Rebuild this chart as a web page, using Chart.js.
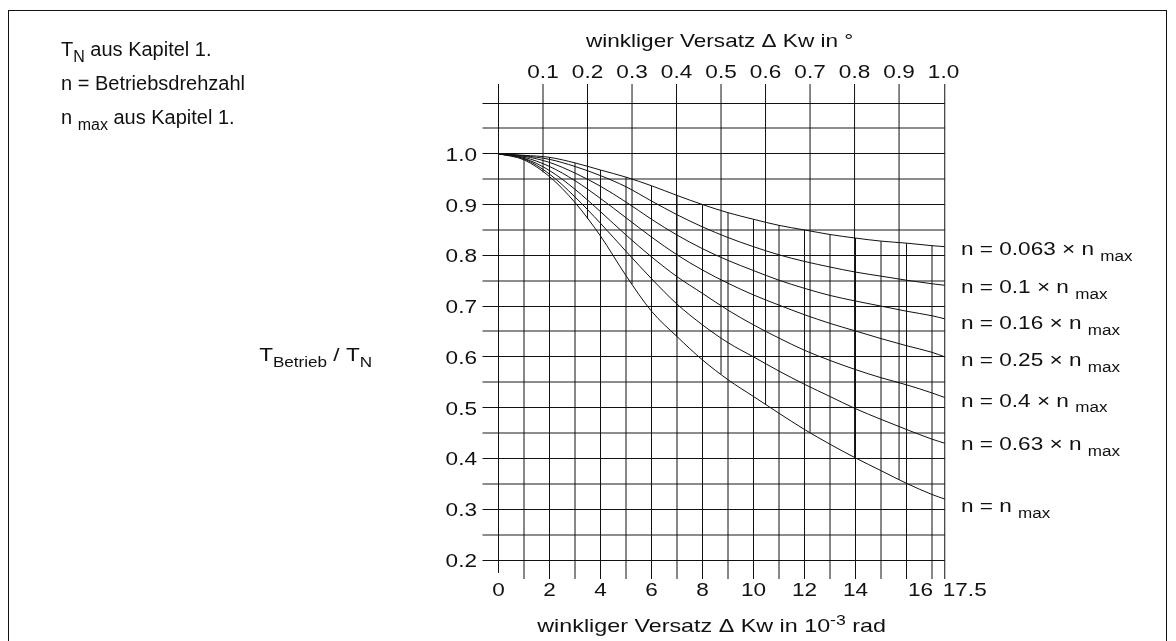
<!DOCTYPE html>
<html>
<head>
<meta charset="utf-8">
<script src="https://cdn.jsdelivr.net/npm/chart.js@4.4.0/dist/chart.umd.min.js"></script>
<style>
  html, body { margin: 0; padding: 0; background: #fff; }
  #wrap { width: 1176px; height: 641px; }
</style>
</head>
<body>
<div id="wrap"><canvas id="mainChart" width="1176" height="641"></canvas></div>
<script>
"use strict";

// angular misalignment in 10^-3 rad
const xPoints = [0, 1, 2, 3, 4, 5, 6, 7, 8, 9, 10, 11, 12, 13, 14, 15, 16, 17, 17.5];

// T_Betrieb / T_N for each speed ratio n / n_max
const curve0063 = [1.000, 0.997, 0.993, 0.982, 0.968, 0.954, 0.937, 0.918, 0.900, 0.884, 0.871, 0.859, 0.850, 0.841, 0.834, 0.828, 0.824, 0.819, 0.817];
const curve010  = [1.000, 0.996, 0.989, 0.975, 0.957, 0.935, 0.907, 0.880, 0.856, 0.835, 0.817, 0.801, 0.788, 0.777, 0.767, 0.759, 0.751, 0.744, 0.741];
const curve016  = [1.000, 0.995, 0.983, 0.962, 0.936, 0.905, 0.871, 0.840, 0.813, 0.790, 0.770, 0.751, 0.735, 0.721, 0.710, 0.700, 0.690, 0.681, 0.675];
const curve025  = [1.000, 0.993, 0.975, 0.947, 0.912, 0.874, 0.836, 0.801, 0.771, 0.745, 0.722, 0.702, 0.683, 0.666, 0.651, 0.636, 0.622, 0.609, 0.600];
const curve040  = [1.000, 0.991, 0.967, 0.930, 0.886, 0.840, 0.797, 0.758, 0.725, 0.692, 0.663, 0.637, 0.613, 0.593, 0.575, 0.559, 0.545, 0.529, 0.520];
const curve063  = [1.000, 0.990, 0.960, 0.915, 0.863, 0.808, 0.754, 0.704, 0.663, 0.628, 0.600, 0.572, 0.546, 0.522, 0.498, 0.477, 0.457, 0.438, 0.430];
const curveMax  = [1.000, 0.988, 0.955, 0.904, 0.838, 0.760, 0.690, 0.640, 0.594, 0.555, 0.522, 0.489, 0.457, 0.428, 0.401, 0.376, 0.351, 0.329, 0.320];

const curves = [curve0063, curve010, curve016, curve025, curve040, curve063, curveMax];
const speedFactors = ["0.063", "0.1", "0.16", "0.25", "0.4", "0.63", ""];

const radTicks = [0, 2, 4, 6, 8, 10, 12, 14, 16, 17.5];
const degTicks = [0.1, 0.2, 0.3, 0.4, 0.5, 0.6, 0.7, 0.8, 0.9, 1.0];
const mradLines = [1, 2, 3, 4, 5, 6, 7, 8, 9, 10, 11, 12, 13, 14, 15, 16, 17];

const degToMrad = Math.PI / 180 * 1000;
const fontFamily = "'Liberation Sans', Arial, Helvetica, sans-serif";
const ink = "#111";
const minorInk = "#8c8c8c";
const chartFont = 18.5;
const stretch = 1.22;     // chart lettering is set wide

// y value (chart units) of each curve label baseline
const labelBaseline = [0.800, 0.725, 0.655, 0.582, 0.502, 0.416, 0.294];

function interp(arr, x) {
    for (var i = 1; i < xPoints.length; i++) {
        if (x <= xPoints[i]) {
            var t = (x - xPoints[i - 1]) / (xPoints[i] - xPoints[i - 1]);
            return arr[i - 1] + t * (arr[i] - arr[i - 1]);
        }
    }
    return arr[arr.length - 1];
}

function isMajor(v) {
    return Math.round(v * 100) % 10 === 0;
}

// text with sub/superscript parts, optional horizontal stretch
function drawRich(ctx, parts, x, y, size, align, sx) {
    sx = sx || 1;
    var fontFor = function (k) {
        return (k ? Math.round(size * 0.78) : size) + "px " + fontFamily;
    };
    var total = 0;
    parts.forEach(function (p) {
        ctx.font = fontFor(p[1]);
        total += ctx.measureText(p[0]).width;
    });
    total *= sx;
    var start = align === "center" ? x - total / 2 : (align === "right" ? x - total : x);
    ctx.save();
    ctx.translate(start, y);
    ctx.scale(sx, 1);
    ctx.textAlign = "left";
    ctx.textBaseline = "alphabetic";
    var cx = 0;
    parts.forEach(function (p) {
        ctx.font = fontFor(p[1]);
        var dy = p[1] === "sub" ? size * 0.3 : (p[1] === "sup" ? -size * 0.4 : 0);
        ctx.fillText(p[0], cx, dy);
        cx += ctx.measureText(p[0]).width;
    });
    ctx.restore();
}

const framePlugin = {
    id: "frame",
    beforeDraw(chart) {
        var ctx = chart.ctx;
        ctx.save();
        ctx.fillStyle = "#fff";
        ctx.fillRect(0, 0, chart.width, chart.height);
        ctx.strokeStyle = ink;
        ctx.lineWidth = 1;
        ctx.strokeRect(8.5, 10.5, 1158, 700);
        ctx.restore();
    }
};

// vertical grid lines: mrad lines stop at the top curve, degree lines at the bottom curve
const gridPlugin = {
    id: "clippedGrid",
    beforeDatasetsDraw(chart) {
        var ctx = chart.ctx;
        var xs = chart.scales.x;
        var ys = chart.scales.y;
        var area = chart.chartArea;
        ctx.save();
        ctx.strokeStyle = ink;
        ctx.lineWidth = 1;
        var line = function (v, y1, y2) {
            var px = xs.getPixelForValue(v);
            ctx.beginPath();
            ctx.moveTo(px, y1);
            ctx.lineTo(px, y2);
            ctx.stroke();
        };
        mradLines.forEach(function (m) {
            line(m, area.bottom + 19, ys.getPixelForValue(interp(curve0063, m)));
        });
        degTicks.forEach(function (d) {
            var m = d * degToMrad;
            if (d < 1) line(m, area.top - 19, ys.getPixelForValue(interp(curveMax, m)));
        });
        line(0, area.top - 19, area.bottom + 13);
        line(17.5, area.top - 19, area.bottom + 19);
        ctx.restore();
    }
};

const textPlugin = {
    id: "texts",
    afterDraw(chart) {
        var ctx = chart.ctx;
        var xs = chart.scales.x;
        var x2 = chart.scales.x2;
        var ys = chart.scales.y;
        var area = chart.chartArea;
        var mid = (area.left + area.right) / 2;
        ctx.save();
        ctx.fillStyle = ink;

        // tick labels from the scales
        xs.ticks.forEach(function (t, i) {
            var px = xs.getPixelForValue(t.value);
            var last = i === xs.ticks.length - 1;
            var shift = i === xs.ticks.length - 2 ? 14 : 0;
            drawRich(ctx, [[t.label, ""]], last ? px - 2 : px + shift, area.bottom + 36, chartFont, last ? "left" : "center", stretch);
        });
        x2.ticks.forEach(function (t) {
            drawRich(ctx, [[t.label, ""]], x2.getPixelForValue(t.value), area.top - 25, chartFont, "center", stretch);
        });
        ys.ticks.forEach(function (t) {
            if (t.label) drawRich(ctx, [[t.label, ""]], area.left - 21.5, ys.getPixelForValue(t.value) + 7, chartFont, "right", stretch);
        });

        // axis titles
        drawRich(ctx, [["winkliger Versatz \u0394 Kw in \u00B0", ""]], mid - 2, 47, chartFont, "center", stretch);
        drawRich(ctx, [["winkliger Versatz \u0394 Kw in 10", ""], ["-3", "sup"], [" rad", ""]], mid - 10, 632, chartFont, "center", 1.26);
        drawRich(ctx, [["T", ""], ["Betrieb", "sub"], [" / T", ""], ["N", "sub"]], 372, 361, chartFont, "right", stretch);

        // curve labels
        speedFactors.forEach(function (f, i) {
            var head = f ? "n = " + f + " \u00D7 n " : "n = n ";
            drawRich(ctx, [[head, ""], ["max", "sub"]], 961, ys.getPixelForValue(labelBaseline[i]), chartFont, "left", stretch);
        });

        // notes
        drawRich(ctx, [["T", ""], ["N", "sub"], [" aus Kapitel 1.", ""]], 61, 56, 20, "left");
        drawRich(ctx, [["n = Betriebsdrehzahl", ""]], 61, 90, 20, "left");
        drawRich(ctx, [["n ", ""], ["max", "sub"], [" aus Kapitel 1.", ""]], 61, 124, 20, "left");
        ctx.restore();
    }
};

Chart.defaults.font.family = fontFamily;
Chart.defaults.font.size = chartFont;
Chart.defaults.color = ink;

var chartSelector = document.getElementById("mainChart");

var chart = new Chart(chartSelector, {
    type: "line",
    data: {
        datasets: curves.map(function (c, i) {
            return {
                label: speedFactors[i] || "1",
                data: xPoints.map(function (x, j) { return {x: x, y: c[j]}; }),
                borderColor: ink,
                borderWidth: 1,
                pointRadius: 0,
                cubicInterpolationMode: "monotone",
                fill: false
            };
        })
    },
    options: {
        responsive: false,
        animation: false,
        events: [],
        layout: {padding: {left: 378.5, right: 231.25, top: 3, bottom: 3}},
        plugins: {legend: {display: false}, tooltip: {enabled: false}},
        scales: {
            x: {
                type: "linear",
                position: "bottom",
                min: 0,
                max: 17.5,
                afterBuildTicks: function (scale) {
                    scale.ticks = radTicks.map(function (v) { return {value: v}; });
                },
                afterFit: function (scale) { scale.height = 78; },
                ticks: {
                    display: false,
                    autoSkip: false,
                    callback: function (v) { return String(v); }
                },
                grid: {display: false, drawTicks: false},
                border: {display: false}
            },
            x2: {
                type: "linear",
                position: "top",
                min: 0,
                max: 17.5,
                afterBuildTicks: function (scale) {
                    scale.ticks = degTicks.map(function (d) { return {value: d * degToMrad}; });
                },
                afterFit: function (scale) { scale.height = 100; },
                ticks: {
                    display: false,
                    autoSkip: false,
                    callback: function (v) { return (v / degToMrad).toFixed(1); }
                },
                grid: {display: false, drawTicks: false},
                border: {display: false}
            },
            y: {
                type: "linear",
                position: "left",
                min: 0.2,
                max: 1.1,
                afterFit: function (scale) { scale.width = 120; },
                ticks: {
                    display: false,
                    stepSize: 0.05,
                    callback: function (v) {
                        var r = Math.round(v * 100);
                        return (r % 10 === 0 && r <= 100) ? (r / 100).toFixed(1) : "";
                    }
                },
                grid: {
                    color: function (c) { return isMajor(c.tick.value) ? ink : minorInk; },
                    lineWidth: function (c) { return isMajor(c.tick.value) ? 1 : 2; },
                    tickLength: 16,
                    drawTicks: true
                },
                border: {display: false}
            }
        }
    },
    plugins: [framePlugin, gridPlugin, textPlugin]
});
</script>
</body>
</html>
